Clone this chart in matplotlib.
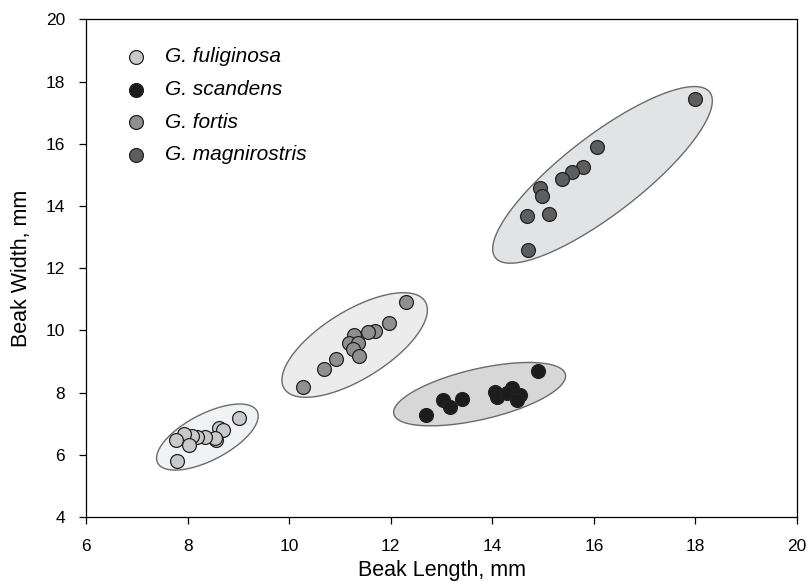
import numpy as np
import matplotlib
matplotlib.use("Agg")
import matplotlib.pyplot as plt

plt.rcParams['font.family'] = ['Liberation Sans', 'DejaVu Sans']

# beak length / width readings, mm
fuli_x = [9.01, 8.61, 8.69, 8.56, 8.53, 8.34, 8.18, 8.08, 7.92, 7.77, 8.03, 7.79]
fuli_y = [7.19, 6.87, 6.80, 6.48, 6.55, 6.58, 6.58, 6.60, 6.67, 6.48, 6.31, 5.80]

scan_x = [14.90, 12.69, 13.02, 13.17, 13.40, 14.05, 14.09, 14.38, 14.28, 14.55, 14.48]
scan_y = [8.69, 7.29, 7.76, 7.55, 7.78, 8.03, 7.87, 8.14, 7.98, 7.92, 7.76]

fort_x = [12.31, 11.97, 11.69, 11.56, 11.28, 11.17, 11.36, 11.25, 11.37, 10.93, 10.69, 10.27]
fort_y = [10.90, 10.23, 9.99, 9.94, 9.85, 9.58, 9.58, 9.39, 9.19, 9.07, 8.75, 8.19]

magn_x = [17.99, 16.07, 15.78, 15.56, 15.37, 14.94, 14.97, 14.68, 15.12, 14.70]
magn_y = [17.43, 15.89, 15.25, 15.08, 14.86, 14.58, 14.33, 13.69, 13.75, 12.58]

labels = ["G. fuliginosa", "G. scandens", "G. fortis", "G. magnirostris"]
point_colors = ["#c9c9c9", "#1c1c1c", "#8f8f8f", "#5e5e5e"]
ellipse_colors = ["#f1f2f4", "#d7d7d8", "#ececec", "#e2e3e5"]

# ellipse: centre, half major axis vector, half minor axis vector (data units)
ell_center = [(8.39, 6.57), (13.75, 7.95), (11.29, 9.53), (16.17, 15.00)]
ell_major = [(0.978, 0.833), (1.689, 0.637), (1.388, 1.399), (2.111, 2.659)]
ell_minor = [(0.211, -0.659), (0.112, -0.795), (0.352, -0.932), (0.470, -0.997)]


def ellipse_xy(c, u, v, n=240):
    t = np.linspace(0, 2 * np.pi, n)
    x = c[0] + u[0] * np.cos(t) + v[0] * np.sin(t)
    y = c[1] + u[1] * np.cos(t) + v[1] * np.sin(t)
    return x, y


fig = plt.figure(figsize=(8.07, 5.82), dpi=100)
ax = fig.add_axes([0.1066, 0.1117, 0.881, 0.855])

for c, u, v, col in zip(ell_center, ell_major, ell_minor, ellipse_colors):
    ex, ey = ellipse_xy(c, u, v)
    ax.fill(ex, ey, facecolor=col, edgecolor="#6b6b6b", linewidth=1.0, zorder=1)

series = [(fuli_x, fuli_y), (scan_x, scan_y), (fort_x, fort_y), (magn_x, magn_y)]
for (xs, ys), col, lab in zip(series, point_colors, labels):
    ax.scatter(xs, ys, s=100, facecolor=col, edgecolor="#222222", linewidth=0.9,
               label=lab, zorder=3)

ax.set_xlim(6, 20)
ax.set_ylim(4, 20)
ax.set_xticks(range(6, 21, 2))
ax.set_yticks(range(4, 21, 2))
ax.tick_params(axis="x", direction="out", length=5, width=0.9, labelsize=12.5, pad=11)
ax.tick_params(axis="y", direction="out", length=5, width=0.9, labelsize=12.5, pad=10)
for sp in ax.spines.values():
    sp.set_linewidth(0.9)
ax.set_xlabel("Beak Length, mm", fontsize=15.5, labelpad=4)
ax.set_ylabel("Beak Width, mm", fontsize=15.5, labelpad=10)

leg = ax.legend(loc="upper left", frameon=False, prop={"size": 15, "style": "italic"},
                labelspacing=0.66, handlelength=1.2, handletextpad=0.76,
                borderpad=0, borderaxespad=0, scatterpoints=1,
                bbox_to_anchor=(0.0534, 0.944))

fig.savefig("out.png", dpi=100)
